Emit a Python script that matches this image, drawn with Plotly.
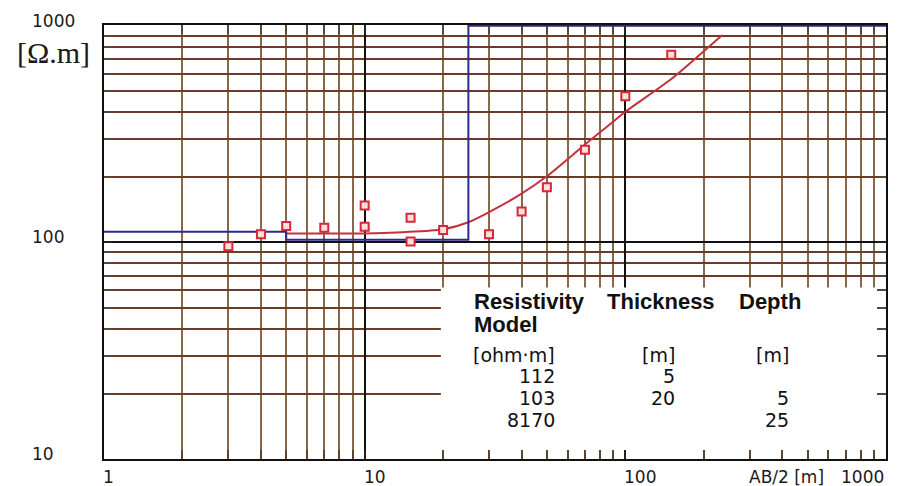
import numpy as np
import plotly.graph_objects as go

# Apparent resistivity sounding: field readings (AB/2 in m, rho_a in ohm.m)
ab2_obs = [3, 4, 5, 7, 10, 10, 15, 15, 20, 30, 40, 50, 70, 100, 150]
rho_obs = [96, 109, 119, 117, 148, 118, 130, 101, 114, 109, 139, 180, 268, 473, 736]

# Computed response of the layered model
ab2_fit = [5, 7, 10, 14, 20, 25, 30, 40, 50, 70, 90, 100, 150, 200, 235]
rho_fit = [110, 110, 110, 111.5, 115, 124, 138, 168, 202, 283, 362, 401, 568, 764, 904]

# Layered model
layer_rho = [112, 103, 8170]
layer_thick = [5, 20]
layer_depth = [5, 25]

x_ticks = [1, 10, 100, 1000]
y_ticks = [10, 100, 1000]
x_minor = [m * d for d in (1, 10, 100) for m in range(2, 10)]
y_minor = [m * d for d in (10, 100) for m in range(2, 10)]

X_MIN, X_MAX = 1, 1000
Y_MIN, Y_MAX = 10, 1000

# Step profile of the model (half-space clipped at the top of the axis)
step_x = [X_MIN]
step_y = [layer_rho[0]]
for d, r_above, r_below in zip(layer_depth, layer_rho[:-1], layer_rho[1:]):
    step_x += [d, d]
    step_y += [r_above, r_below]
step_x.append(X_MAX)
step_y.append(layer_rho[-1])
step_y = list(np.minimum(step_y, Y_MAX))

fig = go.Figure()

fig.add_trace(go.Scatter(
    x=ab2_fit, y=rho_fit, mode="lines",
    line=dict(color="#c4303e", width=2, shape="spline", smoothing=0.8),
    hoverinfo="skip"))

fig.add_trace(go.Scatter(
    x=step_x, y=step_y, mode="lines",
    line=dict(color="#2b2b86", width=2), hoverinfo="skip"))

fig.add_trace(go.Scatter(
    x=ab2_obs, y=rho_obs, mode="markers",
    marker=dict(symbol="square", size=8, color="#fbe3dc",
                line=dict(color="#d8263a", width=2)),
    cliponaxis=False, hoverinfo="skip"))

# White panel holding the model table
fig.add_shape(type="rect", xref="x", yref="y", x0=19.6, x1=X_MAX, y0=Y_MIN, y1=62,
              fillcolor="white", line=dict(width=0), layer="between")

axis_common = dict(
    type="log", showline=True, linecolor="#111", linewidth=2, mirror="ticks",
    ticks="inside", ticklen=9, tickwidth=1.5, tickcolor="#222",
    showgrid=True, gridcolor="#111", gridwidth=2,
    showticklabels=False, zeroline=False, layer="below traces",
)

fig.update_xaxes(
    **axis_common, range=[np.log10(X_MIN), np.log10(X_MAX)],
    tickmode="array", tickvals=x_ticks,
    minor=dict(tickmode="array", tickvals=x_minor, ticks="inside", ticklen=9,
               tickwidth=1.5, tickcolor="#5a4632",
               showgrid=True, gridcolor="#86694a", gridwidth=1.6),
)
fig.update_yaxes(
    **axis_common, range=[np.log10(Y_MIN), np.log10(Y_MAX) + 0.004],
    tickmode="array", tickvals=y_ticks,
    minor=dict(tickmode="array", tickvals=y_minor, ticks="inside", ticklen=9,
               tickwidth=1.5, tickcolor="#5a4632",
               showgrid=True, gridcolor="#6c3a26", gridwidth=1.6),
)

ann = []
tick_font = dict(family="DejaVu Sans", size=17, color="#1a1a1a")

# y tick labels, left aligned in the margin
for v in y_ticks:
    ann.append(dict(x=-0.094, xref="paper", y=np.log10(v), yref="y",
                    text=str(v), showarrow=False, xanchor="left",
                    yanchor="middle", yshift=5, font=tick_font))

# x tick labels
for v in x_ticks:
    last = v == x_ticks[-1]
    ann.append(dict(x=np.log10(v), xref="x", y=0, yref="paper",
                    text=str(v), showarrow=False,
                    xanchor="right" if last else "left",
                    xshift=0 if last else -3,
                    yanchor="middle", yshift=-18, font=tick_font))

ann.append(dict(x=0.8726, xref="paper", y=0, yref="paper", text="AB/2 [m]",
                showarrow=False, xanchor="center", yanchor="middle",
                yshift=-18, font=tick_font))

ann.append(dict(x=-0.065, xref="paper", y=0.937, yref="paper", text="[Ω.m]",
                showarrow=False, xanchor="center", yanchor="middle",
                font=dict(family="Liberation Serif", size=30, color="#1a1a1a")))

# Model table
def px_x(p):
    return (p - 104) / 785

def px_y(p):
    return (459 - p) / 434

head_font = dict(family="Liberation Sans", size=22, color="#111")
body_font = dict(family="DejaVu Sans", size=19, color="#111")

for word, left in [("Resistivity", 473), ("Thickness", 607), ("Depth", 739)]:
    ann.append(dict(x=px_x(left), xref="paper", y=px_y(301), yref="paper",
                    text=f"<b>{word}</b>", showarrow=False, xanchor="left",
                    yanchor="middle", font=head_font))
ann.append(dict(x=px_x(473), xref="paper", y=px_y(324), yref="paper",
                text="<b>Model</b>", showarrow=False, xanchor="left",
                yanchor="middle", font=head_font))

col_right = [559, 679, 794]
units = ["[ohm·m]", "[m]", "[m]"]
for txt, right in zip(units, col_right):
    ann.append(dict(x=px_x(right), xref="paper", y=px_y(355), yref="paper",
                    text=txt, showarrow=False, xanchor="right",
                    yanchor="middle", font=body_font))

row_y = [376, 398, 420]
for i, r in enumerate(layer_rho):
    cells = [str(r),
             str(layer_thick[i]) if i < len(layer_thick) else "",
             str(layer_depth[i - 1]) if i >= 1 else ""]
    for txt, right in zip(cells, col_right):
        if txt:
            ann.append(dict(x=px_x(right), xref="paper", y=px_y(row_y[i]),
                            yref="paper", text=txt, showarrow=False,
                            xanchor="right", yanchor="middle", font=body_font))

fig.update_layout(
    width=899, height=486,
    margin=dict(l=104, r=11, t=25, b=27),
    paper_bgcolor="white", plot_bgcolor="white",
    showlegend=False, annotations=ann,
)

fig.write_html("out.html")
